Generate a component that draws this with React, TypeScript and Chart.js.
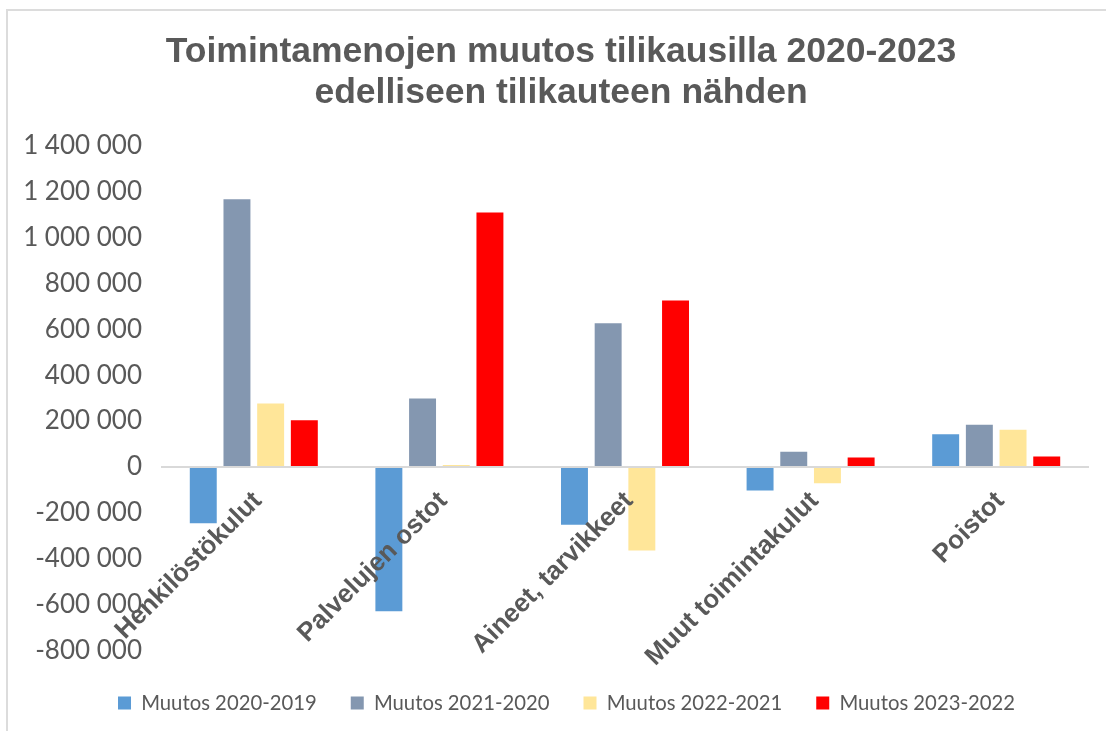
import React, { useEffect, useRef } from "react";
import { Chart, registerables } from "chart.js";

Chart.register(...registerables);

const categories = [
  "Henkilöstökulut",
  "Palvelujen ostot",
  "Aineet, tarvikkeet",
  "Muut toimintakulut",
  "Poistot",
];

const seriesNames = [
  "Muutos 2020-2019",
  "Muutos 2021-2020",
  "Muutos 2022-2021",
  "Muutos 2023-2022",
];

const muutos2020_2019 = [-246000, -629000, -252000, -103000, 142000];
const muutos2021_2020 = [1167000, 298000, 626000, 66000, 184000];
const muutos2022_2021 = [277000, 8000, -364000, -71000, 162000];
const muutos2023_2022 = [203000, 1109000, 726000, 41000, 45000];

const seriesColors = ["#5B9BD5", "#8497B0", "#FFE699", "#FF0000"];

const yMin = -800000;
const yMax = 1400000;
const yStep = 200000;

const titleLines = [
  "Toimintamenojen muutos tilikausilla 2020-2023",
  "edelliseen tilikauteen nähden",
];

const textColor = "#595959";

const fmt = (v: number) => {
  const s = Math.abs(v)
    .toString()
    .replace(/\B(?=(\d{3})+(?!\d))/g, " ");
  return (v < 0 ? "-" : "") + s;
};

const categoryLabelPlugin = {
  id: "categoryLabels",
  afterLayout(chart: any) {
    if (chart.legend) {
      chart.legend.left += 22;
      chart.legend.right += 22;
      chart.legend.top += 8.5;
      chart.legend.bottom += 8.5;
    }
    if (chart.titleBlock) {
      chart.titleBlock.left += 16.5;
      chart.titleBlock.right += 16.5;
    }
  },
  afterDatasetsDraw(chart: any) {
    const { ctx } = chart;
    const x = chart.scales.x;
    const y = chart.scales.y;
    const y0 = y.getPixelForValue(0);
    ctx.save();
    ctx.font = "bold 26px 'Liberation Sans', Arial, sans-serif";
    ctx.fillStyle = textColor;
    ctx.textAlign = "right";
    ctx.textBaseline = "middle";
    categories.forEach((c, i) => {
      const px = x.getPixelForValue(i);
      ctx.save();
      ctx.translate(px + 4, y0 + 30);
      ctx.rotate(-Math.PI / 4);
      ctx.fillText(c, 0, 0);
      ctx.restore();
    });
    ctx.restore();
  },
};

export default function App() {
  const canvasRef = useRef<HTMLCanvasElement | null>(null);

  useEffect(() => {
    document.body.style.margin = "0";
    const canvas = canvasRef.current;
    if (!canvas) return;
    const seriesData = [muutos2020_2019, muutos2021_2020, muutos2022_2021, muutos2023_2022];
    const chart = new Chart(canvas, {
      type: "bar",
      data: {
        labels: categories,
        datasets: seriesNames.map((name, i) => ({
          label: name,
          data: seriesData[i],
          backgroundColor: seriesColors[i],
          borderWidth: 0,
          categoryPercentage: 0.726,
          barPercentage: 0.8,
        })),
      },
      options: {
        responsive: false,
        animation: false,
        layout: { padding: { left: 0, right: 17, top: 0, bottom: 16.3 } },
        scales: {
          x: { display: false },
          y: {
            min: yMin,
            max: yMax,
            afterFit: (scale: any) => {
              scale.width = 161;
            },
            border: { display: false },
            grid: {
              drawTicks: false,
              color: (c: any) => (c.tick && c.tick.value === 0 ? "#d9d9d9" : "rgba(0,0,0,0)"),
              lineWidth: (c: any) => (c.tick && c.tick.value === 0 ? 2 : 0),
            },
            ticks: {
              stepSize: yStep,
              padding: 19,
              color: textColor,
              font: { family: "Lato, 'Noto Sans', sans-serif", size: 26 },
              callback: (v: any) => fmt(Number(v)),
            },
          },
        },
        plugins: {
          tooltip: { enabled: false },
          title: {
            display: true,
            text: titleLines,
            color: textColor,
            font: { family: "'Liberation Sans', Arial, sans-serif", size: 35.5, weight: "bold", lineHeight: 1.155 },
            padding: { top: 31.5, bottom: 32.3 },
          },
          legend: {
            position: "bottom",
            labels: {
              boxWidth: 13,
              boxHeight: 13,
              padding: 34,
              color: textColor,
              font: { family: "Lato, 'Noto Sans', sans-serif", size: 20.3 },
            },
          },
        },
      },
      plugins: [categoryLabelPlugin],
    });
    return () => chart.destroy();
  }, []);

  return (
    <div style={{ position: "relative", width: 1106, height: 731, overflow: "hidden", background: "#fff" }}>
      <canvas ref={canvasRef} width={1106} height={731} style={{ display: "block" }} />
      <div
        style={{
          position: "absolute",
          left: 6,
          top: 9,
          width: 1200,
          height: 800,
          borderLeft: "2px solid #dcdcdc",
          borderTop: "2px solid #dcdcdc",
          pointerEvents: "none",
        }}
      />
    </div>
  );
}
